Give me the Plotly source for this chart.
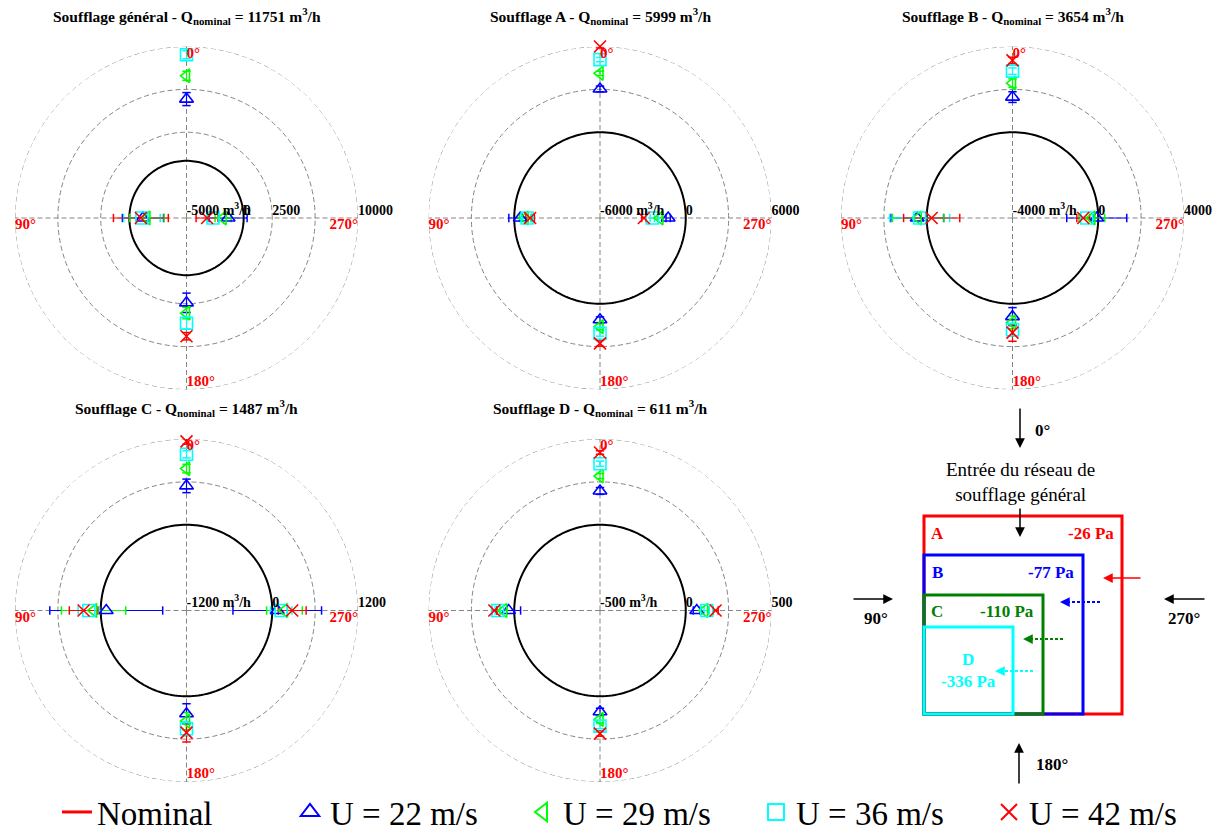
import plotly.graph_objects as go

W, H = 1223, 839
FONT = "Liberation Serif"

# ---------------- data ----------------
angles = [0, 90, 180, 270]
series_names = ["U = 22 m/s", "U = 29 m/s", "U = 36 m/s", "U = 42 m/s"]
series_colors = ["#0000FF", "#00FF00", "#00FFFF", "#FF0000"]
series_symbols = ["triangle-up-open", "triangle-left-open", "square-open", "x-thin-open"]

panel_names = ["Soufflage général", "Soufflage A", "Soufflage B", "Soufflage C", "Soufflage D"]
q_nominal = [11751, 5999, 3654, 1487, 611]
r_min = [-5000, -6000, -4000, -1200, -500]
r_max = [10000, 6000, 4000, 1200, 500]
ring_values = [[2500, 6250], [0, 3000], [0, 2000], [0, 600], [0, 250]]
label_values = [[-5000, 0, 2500, 10000], [-6000, 0, 6000], [-4000, 0, 4000], [-1200, 0, 1200], [-500, 0, 500]]

# deviation from nominal flow (m3/h) at angles 0, 90, 180, 270
gen_u22 = [5400, -1190, 2420, -1360]
gen_u29 = [7440, -1540, 3320, -1800]
gen_u36 = [9280, -1100, 4200, -2680]
gen_u42 = [None, -1010, 5340, -3200]
gen_u22_err = [570, 1800, 850, 1660]
gen_u29_err = [400, 1500, 500, 700]
gen_u36_err = [350, 1600, 500, 500]
gen_u42_err = [0, 2400, 320, 960]

a_u22 = [3030, -420, 1120, -1230]
a_u29 = [4120, -760, 1600, -1810]
a_u36 = [5080, -900, 2070, -2340]
a_u42 = [6000, -1110, 2770, -2930]
a_u22_err = [200, 800, 200, 150]
a_u29_err = [150, 400, 200, 150]
a_u36_err = [150, 300, 200, 150]
a_u42_err = [100, 300, 200, 150]

b_u22 = [1640, 445, 600, -70]
b_u29 = [2290, 400, 870, -300]
b_u36 = [2850, 330, 1210, -535]
b_u42 = [3350, -230, 1350, -700]
b_u22_err = [250, 1230, 420, 1400]
b_u29_err = [200, 1200, 300, 600]
b_u36_err = [150, 1400, 300, 300]
b_u42_err = [150, 1310, 400, 300]

c_u22 = [544, -77, 245, 70]
c_u29 = [786, 100, 348, 171]
c_u36 = [986, 167, 455, 125]
c_u42 = [1167, 240, 510, 279]
c_u22_err = [95, 790, 140, 620]
c_u29_err = [60, 450, 120, 250]
c_u36_err = [50, 150, 100, 150]
c_u42_err = [40, 200, 130, 195]

d_u22 = [197, 33, 90, 64]
d_u29 = [284, 62, 135, 110]
d_u36 = [356, 97, 174, 122]
d_u42 = [421, 116, 218, 174]
d_u22_err = [20, 70, 20, 20]
d_u29_err = [15, 20, 20, 20]
d_u36_err = [15, 15, 15, 15]
d_u42_err = [10, 15, 15, 15]

panel_values = [
    [gen_u22, gen_u29, gen_u36, gen_u42],
    [a_u22, a_u29, a_u36, a_u42],
    [b_u22, b_u29, b_u36, b_u42],
    [c_u22, c_u29, c_u36, c_u42],
    [d_u22, d_u29, d_u36, d_u42],
]
panel_errors = [
    [gen_u22_err, gen_u29_err, gen_u36_err, gen_u42_err],
    [a_u22_err, a_u29_err, a_u36_err, a_u42_err],
    [b_u22_err, b_u29_err, b_u36_err, b_u42_err],
    [c_u22_err, c_u29_err, c_u36_err, c_u42_err],
    [d_u22_err, d_u29_err, d_u36_err, d_u42_err],
]

# diagram texts
zone_labels = ["A", "B", "C", "D"]
zone_pressures = ["-26 Pa", "-77 Pa", "-110 Pa", "-336 Pa"]
zone_colors = ["#FF0000", "#0000FF", "#008000", "#00FFFF"]

# ---------------- layout geometry ----------------
R = 171.5
centers = [(186.5, 218), (600, 218), (1012.5, 218), (186.5, 610.5), (600, 610.5)]
GRID_COLOR = "#858585"
GRID_DASH = "5px,3px"
GRID = dict(gridcolor=GRID_COLOR, griddash=GRID_DASH, gridwidth=1)


def px(x):
    return x / W


def py(y):
    return 1 - y / H


fig = go.Figure()
layout_polars = {}
annotations = []
shapes = []

circle_theta = list(range(0, 361, 2))

for i in range(5):
    sp = "polar" if i == 0 else f"polar{i + 1}"
    cx, cy = centers[i]
    layout_polars[sp] = dict(
        domain=dict(x=[px(cx - R), px(cx + R)], y=[py(cy + R), py(cy - R)]),
        bgcolor="white",
        radialaxis=dict(range=[r_min[i], r_max[i]], tickvals=ring_values[i],
                        showticklabels=False, ticks="", showline=False, **GRID),
        angularaxis=dict(rotation=90, direction="counterclockwise", tickvals=angles, showticklabels=False,
                         ticks="", showline=False, **GRID),
    )
    # outer dashed ring
    fig.add_trace(go.Scatterpolar(r=[r_max[i]] * len(circle_theta), theta=circle_theta, mode="lines",
                                  line=dict(color=GRID_COLOR, width=1, dash=GRID_DASH), subplot=sp,
                                  showlegend=False, hoverinfo="skip", cliponaxis=False))
    # nominal circle (deviation = 0)
    fig.add_trace(go.Scatterpolar(r=[0] * len(circle_theta), theta=circle_theta, mode="lines",
                                  line=dict(color="black", width=2), subplot=sp, showlegend=False,
                                  hoverinfo="skip"))
    if i == 0:
        fig.add_trace(go.Scatterpolar(r=[None], theta=[None], mode="lines", name="Nominal",
                                      line=dict(color="#FF0000", width=3), subplot=sp, showlegend=True))
        for s in range(4):
            fig.add_trace(go.Scatterpolar(r=[None], theta=[None], mode="markers", name=series_names[s],
                                          marker=dict(symbol=series_symbols[s], size=16, color=series_colors[s],
                                                      line=dict(color=series_colors[s], width=2)),
                                          subplot=sp, showlegend=True))
    # error bars
    for s in range(4):
        vals = panel_values[i][s]
        errs = panel_errors[i][s]
        rr, th, sym = [], [], []
        for a, v, e in zip(angles, vals, errs):
            if v is None:
                continue
            cap = "line-ew" if a in (0, 180) else "line-ns"
            rr += [v - e, v + e, None]
            th += [a, a, None]
            sym += [cap, cap, cap]
        fig.add_trace(go.Scatterpolar(r=rr, theta=th, mode="lines+markers",
                                      line=dict(color=series_colors[s], width=1.2),
                                      marker=dict(symbol=sym, size=6, color=series_colors[s],
                                                  line=dict(color=series_colors[s], width=1.5)),
                                      subplot=sp, showlegend=False, hoverinfo="skip"))
    # markers
    for s in range(4):
        fig.add_trace(go.Scatterpolar(r=panel_values[i][s], theta=angles, mode="markers",
                                      name=series_names[s],
                                      marker=dict(symbol=series_symbols[s], size=12, color=series_colors[s],
                                                  line=dict(color=series_colors[s], width=1.6)),
                                      subplot=sp, showlegend=False, cliponaxis=False))
    # radial value labels
    lv = label_values[i]
    ltext = [f"<b>{v} m<sup>3</sup>/h</b>" if k == 0 else f"<b>{v}</b>" for k, v in enumerate(lv)]
    fig.add_trace(go.Scatterpolar(r=lv, theta=[270] * len(lv), mode="text", text=ltext,
                                  textposition="top right", cliponaxis=False,
                                  textfont=dict(family=FONT, size=14, color="black"),
                                  subplot=sp, showlegend=False, hoverinfo="skip"))
    # angle labels
    fig.add_trace(go.Scatterpolar(r=[r_max[i]] * 4, theta=angles, mode="text",
                                  text=["<b>0°</b>", "<b>90°</b>", "<b>180°</b>", "<b>270°</b>"],
                                  textposition=["bottom right", "bottom right", "top right", "bottom left"],
                                  cliponaxis=False,
                                  textfont=dict(family=FONT, size=15, color="#FF0000"),
                                  subplot=sp, showlegend=False, hoverinfo="skip"))
    # title
    annotations.append(dict(
        x=px(cx), y=py(cy - R - 31), xref="paper", yref="paper", showarrow=False,
        text=f"<b>{panel_names[i]} - Q<sub>nominal</sub> = {q_nominal[i]} m<sup>3</sup>/h</b>",
        font=dict(family=FONT, size=15.5, color="black"), xanchor="center", yanchor="middle"))

# ---------------- diagram ----------------
rects = [(924, 516, 1122, 714), (924, 555, 1083, 714), (924, 595, 1043, 714), (924, 627, 1013, 714)]
for (x0, y0, x1, y1), col in zip(rects, zone_colors):
    shapes.append(dict(type="rect", xref="paper", yref="paper", x0=px(x0), x1=px(x1), y0=py(y1), y1=py(y0),
                       line=dict(color=col, width=3), fillcolor="rgba(0,0,0,0)"))

label_pos = [(937, 533), (937, 572), (937, 611)]
press_pos = [(1116, 533), (1076, 572), (1036, 611)]
for k in range(3):
    annotations.append(dict(x=px(label_pos[k][0]), y=py(label_pos[k][1]), xref="paper", yref="paper",
                            text=f"<b>{zone_labels[k]}</b>", showarrow=False, xanchor="center", yanchor="middle",
                            font=dict(family=FONT, size=17, color=zone_colors[k])))
    annotations.append(dict(x=px(press_pos[k][0]), y=py(press_pos[k][1]), xref="paper", yref="paper",
                            text=f"<b>{zone_pressures[k]}</b>", showarrow=False, xanchor="right", yanchor="middle",
                            font=dict(family=FONT, size=17, color=zone_colors[k])))
annotations.append(dict(x=px(968), y=py(670), xref="paper", yref="paper",
                        text=f"<b>{zone_labels[3]}<br>{zone_pressures[3]}</b>", showarrow=False,
                        xanchor="center", yanchor="middle",
                        font=dict(family=FONT, size=17, color=zone_colors[3])))

# dashed inner arrows
dotted = [((1100, 602), (1060, 602), "#0000FF"), ((1063, 639), (1023, 639), "#008000"),
          ((1033, 671), (995, 671), "#00FFFF")]
for (tx, ty), (hx, hy), col in dotted:
    shapes.append(dict(type="line", xref="paper", yref="paper", x0=px(tx), y0=py(ty), x1=px(hx + 6), y1=py(hy),
                       line=dict(color=col, width=1.8, dash="3px,2px")))
    annotations.append(dict(x=px(hx), y=py(hy), xref="paper", yref="paper", ax=9, ay=0, showarrow=True,
                            arrowhead=2, arrowsize=1.3, arrowwidth=1.5, arrowcolor=col, text=""))

# solid arrows (head, tail offset in px)
solid = [((1020, 448), (0, -41), "black"), ((1020, 537), (0, -30), "black"),
         ((1103, 578), (39, 0), "#FF0000"), ((893, 599), (-41, 0), "black"),
         ((1164, 599), (42, 0), "black"), ((1019, 743), (0, 42), "black")]
for (hx, hy), (ax, ay), col in solid:
    annotations.append(dict(x=px(hx), y=py(hy), xref="paper", yref="paper", ax=ax, ay=ay, showarrow=True,
                            arrowhead=2, arrowsize=1.3, arrowwidth=1.5, arrowcolor=col, text=""))

dir_labels = [("<b>0°</b>", 1033, 430, "left"), ("<b>90°</b>", 876, 618, "center"),
              ("<b>270°</b>", 1184, 618, "center"), ("<b>180°</b>", 1034, 764, "left")]
for txt, x, y, anc in dir_labels:
    annotations.append(dict(x=px(x), y=py(y), xref="paper", yref="paper", text=txt, showarrow=False,
                            xanchor=anc, yanchor="middle", font=dict(family=FONT, size=17, color="black")))
annotations.append(dict(x=px(1020), y=py(482), xref="paper", yref="paper",
                        text="Entrée du réseau de<br>soufflage général", showarrow=False,
                        xanchor="center", yanchor="middle", font=dict(family=FONT, size=19, color="black")))

fig.update_layout(
    width=W, height=H, autosize=False,
    margin=dict(l=0, r=0, t=0, b=0, autoexpand=False),
    paper_bgcolor="white", plot_bgcolor="white",
    font=dict(family=FONT),
    annotations=annotations, shapes=shapes,
    showlegend=True,
    legend=dict(orientation="h", x=px(57), xanchor="left", y=py(812), yanchor="middle",
                font=dict(family=FONT, size=33, color="black"), entrywidth=188, entrywidthmode="pixels",
                bgcolor="rgba(0,0,0,0)", itemclick=False),
    **layout_polars,
)

fig.write_html("out.html", config={"displayModeBar": False},
               post_script="document.body.style.margin='0px';")
